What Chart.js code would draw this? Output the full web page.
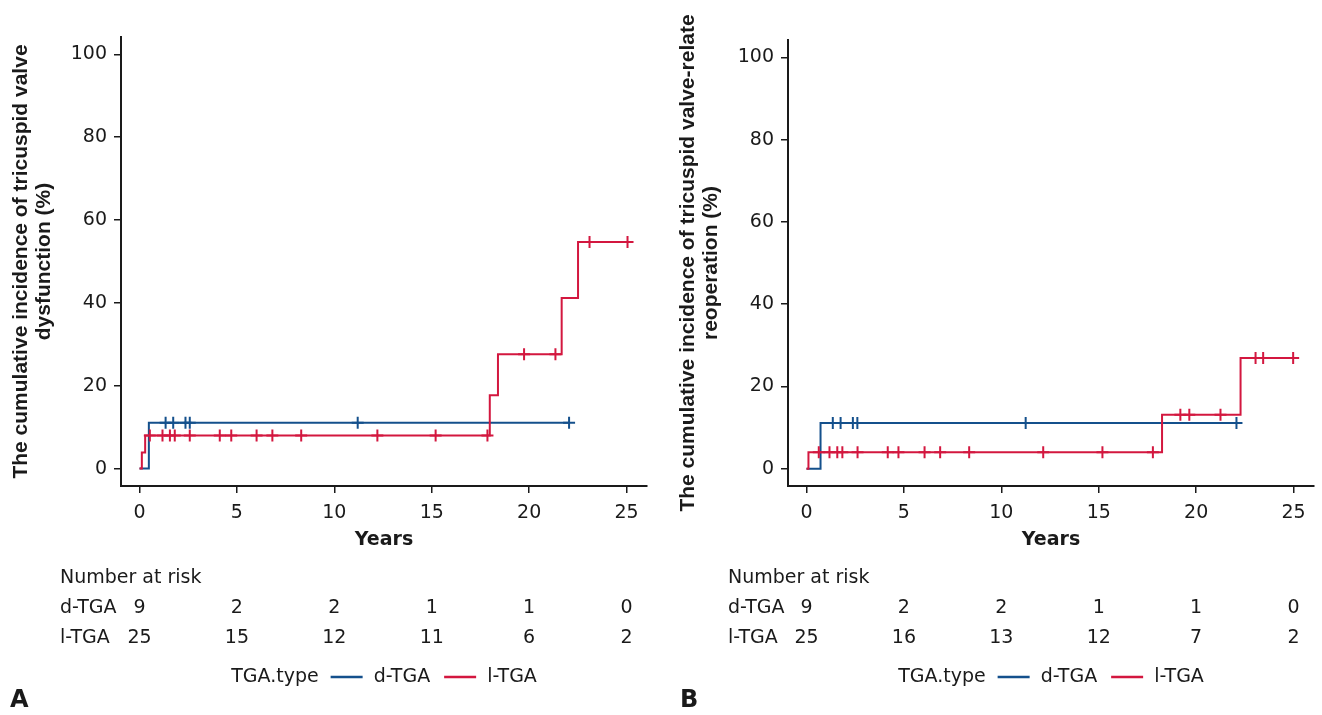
<!DOCTYPE html>
<html>
<head>
<meta charset="utf-8">
<script src="https://cdn.jsdelivr.net/npm/chart.js@4"></script>
<style>
  html, body { margin: 0; padding: 0; background: #fff; }
  body { width: 1322px; height: 715px; position: relative; overflow: hidden; }
  canvas { position: absolute; top: 0; }
  #chartA { left: 0; }
  #chartB { left: 667px; }
</style>
</head>
<body>
<canvas id="chartA" width="660" height="715"></canvas>
<canvas id="chartB" width="655" height="715"></canvas>
<script>
// ---- data ----
const xTicks = [0, 5, 10, 15, 20, 25];
const yTicks = [0, 20, 40, 60, 80, 100];
const groups = ['d-TGA', 'l-TGA'];
const blue = '#14508c';
const red = '#d3173f';

// A: tricuspid valve dysfunction
const dysDTime = [0, 0.48, 22.05];
const dysDValue = [0, 11.1, 11.1];
const dysDCensor = [1.34, 1.73, 2.36, 2.58, 11.2, 22.05];
const dysLTime = [0, 0.12, 0.29, 17.98, 18.4, 21.67, 22.51, 25.05];
const dysLValue = [0, 3.9, 8.0, 17.7, 27.6, 41.2, 54.7, 54.7];
const dysLCensor = [0.53, 1.18, 1.56, 1.81, 2.58, 4.12, 4.71, 6.01, 6.82, 8.3, 12.21, 15.2, 17.86, 19.74, 21.35, 23.1, 25.05];
const dysRiskD = [9, 2, 2, 1, 1, 0];
const dysRiskL = [25, 15, 12, 11, 6, 2];

// B: tricuspid valve-related reoperation
const reopDTime = [0, 0.72, 22.07];
const reopDValue = [0, 11.1, 11.1];
const reopDCensor = [1.35, 1.75, 2.38, 2.61, 11.25, 22.07];
const reopLTime = [0, 0.1, 18.25, 22.28, 24.98];
const reopLValue = [0, 4.0, 13.1, 26.9, 26.9];
const reopLCensor = [0.63, 1.18, 1.58, 1.84, 2.62, 4.17, 4.72, 6.06, 6.86, 8.35, 12.15, 15.19, 17.78, 19.19, 19.65, 21.25, 23.05, 23.44, 24.98];
const reopRiskD = [9, 2, 2, 1, 1, 0];
const reopRiskL = [25, 16, 13, 12, 7, 2];

Chart.defaults.font.family = '"DejaVu Sans", sans-serif';
Chart.defaults.font.size = 19;
Chart.defaults.color = '#1a1a1a';

function levelAt(times, values, t) {
    let v = values[0];
    for (let i = 0; i < times.length; i++) if (times[i] <= t) v = values[i];
    return v;
}

function stepData(times, values) {
    return times.map((t, i) => ({ x: t, y: values[i] }));
}

function censorData(times, values, marks) {
    return marks.map(t => ({ x: t, y: levelAt(times, values, t) }));
}

// risk table, legend and panel letter under the plot
const riskTable = {
    id: 'riskTable',
    afterDraw(chart, args, opts) {
        const ctx = chart.ctx;
        const xs = chart.scales.x;
        const area = chart.chartArea;
        ctx.save();
        ctx.fillStyle = '#1a1a1a';
        ctx.font = '19px "DejaVu Sans"';
        ctx.textBaseline = 'middle';
        ctx.textAlign = 'left';
        ctx.fillText('Number at risk', opts.left, 578);
        opts.rows.forEach((row, i) => {
            const y = 608 + i * 30;
            ctx.textAlign = 'left';
            ctx.fillText(groups[i], opts.left, y);
            ctx.textAlign = 'center';
            row.forEach((v, j) => ctx.fillText(String(v), xs.getPixelForValue(xTicks[j]), y));
        });

        // legend
        const ly = 677;
        const title = 'TGA.type';
        const wTitle = ctx.measureText(title).width;
        const wD = ctx.measureText(groups[0]).width;
        const wL = ctx.measureText(groups[1]).width;
        const lineW = 32;
        const total = wTitle + 12 + lineW + 11 + wD + 14 + lineW + 11 + wL;
        let lx = (area.left + area.right) / 2 - total / 2;
        ctx.textAlign = 'left';
        ctx.fillText(title, lx, ly);
        lx += wTitle + 12;
        ctx.lineWidth = 2.5;
        ctx.strokeStyle = blue;
        ctx.beginPath(); ctx.moveTo(lx, ly); ctx.lineTo(lx + lineW, ly); ctx.stroke();
        lx += lineW + 11;
        ctx.fillText(groups[0], lx, ly);
        lx += wD + 14;
        ctx.strokeStyle = red;
        ctx.beginPath(); ctx.moveTo(lx, ly); ctx.lineTo(lx + lineW, ly); ctx.stroke();
        lx += lineW + 11;
        ctx.fillText(groups[1], lx, ly);

        ctx.font = 'bold 24px "DejaVu Sans"';
        ctx.fillText(opts.letter, opts.letterX, 701);
        ctx.restore();
    }
};

function makeChart(id, cfg) {
    new Chart(document.getElementById(id), {
        type: 'line',
        data: {
            datasets: [
                {
                    label: groups[1],
                    data: stepData(cfg.lTime, cfg.lValue),
                    stepped: 'before',
                    borderColor: red,
                    borderWidth: 2,
                    pointRadius: 0
                },
                {
                    type: 'scatter',
                    label: groups[1] + ' censored',
                    data: censorData(cfg.lTime, cfg.lValue, cfg.lCensor),
                    pointStyle: 'cross',
                    pointRadius: 6,
                    borderWidth: 2,
                    borderColor: red
                },
                {
                    label: groups[0],
                    data: stepData(cfg.dTime, cfg.dValue),
                    stepped: 'before',
                    borderColor: blue,
                    borderWidth: 2,
                    pointRadius: 0
                },
                {
                    type: 'scatter',
                    label: groups[0] + ' censored',
                    data: censorData(cfg.dTime, cfg.dValue, cfg.dCensor),
                    pointStyle: 'cross',
                    pointRadius: 6,
                    borderWidth: 2,
                    borderColor: blue
                }
            ]
        },
        options: {
            responsive: false,
            animation: false,
            events: [],
            layout: { padding: { left: 0, right: cfg.padRight, top: cfg.padTop, bottom: 159 } },
            plugins: {
                legend: { display: false },
                tooltip: { enabled: false },
                riskTable: { rows: [cfg.riskD, cfg.riskL], left: cfg.tableLeft, letter: cfg.letter, letterX: cfg.letterX }
            },
            scales: {
                x: {
                    type: 'linear',
                    min: -0.95,
                    max: 26.05,
                    afterBuildTicks: s => { s.ticks = xTicks.map(v => ({ value: v })); },
                    afterFit: s => { s.height = 70; },
                    border: { display: true, color: '#1a1a1a', width: 2 },
                    grid: { drawOnChartArea: false, drawTicks: true, tickLength: 7, lineWidth: 1.5, color: '#1a1a1a' },
                    ticks: { padding: 9, maxRotation: 0 },
                    title: {
                        display: true,
                        text: 'Years',
                        font: { weight: 'bold', size: 19 },
                        padding: { top: 0, bottom: 5 }
                    }
                },
                y: {
                    type: 'linear',
                    min: -4.2,
                    max: 104.2,
                    afterBuildTicks: s => { s.ticks = yTicks.map(v => ({ value: v })); },
                    afterFit: s => { s.width = 121; },
                    border: { display: true, color: '#1a1a1a', width: 2 },
                    grid: { drawOnChartArea: false, drawTicks: true, tickLength: 7, lineWidth: 1.5, color: '#1a1a1a' },
                    ticks: { padding: 7 },
                    title: {
                        display: true,
                        text: cfg.yTitle,
                        font: { family: '"Liberation Sans", Arial, sans-serif', weight: 'bold', size: 21, lineHeight: 1.1 },
                        padding: { top: 10, bottom: 0 }
                    }
                }
            }
        },
        plugins: [riskTable]
    });
}

makeChart('chartA', {
    dTime: dysDTime, dValue: dysDValue, dCensor: dysDCensor,
    lTime: dysLTime, lValue: dysLValue, lCensor: dysLCensor,
    riskD: dysRiskD, riskL: dysRiskL,
    yTitle: ['The cumulative incidence of tricuspid valve', 'dysfunction (%)'],
    padTop: 37, padRight: 13, tableLeft: 60, letter: 'A', letterX: 10
});

makeChart('chartB', {
    dTime: reopDTime, dValue: reopDValue, dCensor: reopDCensor,
    lTime: reopLTime, lValue: reopLValue, lCensor: reopLCensor,
    riskD: reopRiskD, riskL: reopRiskL,
    yTitle: ['The cumulative incidence of tricuspid valve-relate', 'reoperation (%)'],
    padTop: 40, padRight: 7, tableLeft: 61, letter: 'B', letterX: 13
});
</script>
</body>
</html>
